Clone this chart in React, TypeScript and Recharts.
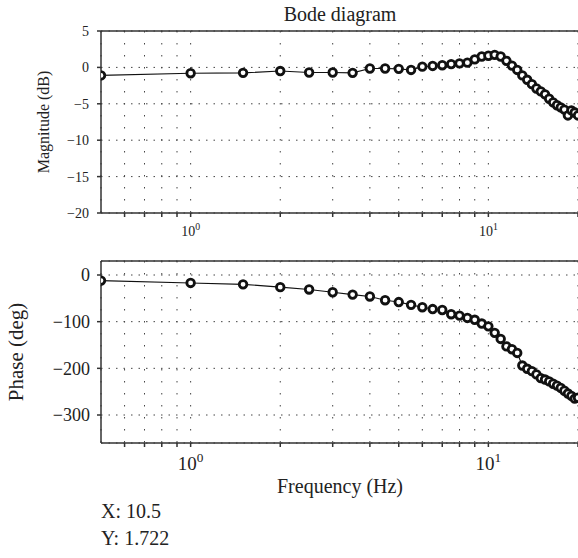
import React from "react";
import { LineChart, Line, XAxis, YAxis, CartesianGrid, ReferenceLine } from "recharts";

const frequencies = [
  0.5, 1, 1.5, 2, 2.5, 3, 3.5, 4, 4.5, 5, 5.5, 6, 6.5, 7, 7.5, 8, 8.5, 9, 9.5, 10,
  10.5, 11, 11.5, 12, 12.5, 13, 13.5, 14, 14.5, 15, 15.5, 16, 16.5, 17, 17.5, 18, 18.5, 19, 19.5, 20,
];
const magnitudeDb = [
  -1.1, -0.8, -0.75, -0.5, -0.7, -0.7, -0.75, -0.15, -0.15, -0.2, -0.35, 0.1, 0.2, 0.3, 0.45, 0.55, 0.65, 1.1, 1.5, 1.6,
  1.722, 1.5, 0.9, 0.25, -0.35, -1.1, -1.7, -2.3, -2.9, -3.3, -3.7, -4.3, -4.8, -5.2, -5.5, -5.8, -6.6, -5.9, -6.2, -6.6,
];
const phaseDeg = [
  -12, -17, -20, -26, -31, -37, -42, -46, -54, -58, -64, -69, -73, -75, -84, -87, -92, -96, -104, -110,
  -124, -137, -153, -159, -167, -194, -201, -206, -213, -221, -224, -228, -233, -237, -242, -248, -254, -259, -265, -263,
];
const magTicks = [-20, -15, -10, -5, 0, 5];
const phaseTicks = [-300, -200, -100, 0];
const freqTicks = [0.6, 0.7, 0.8, 0.9, 1, 2, 3, 4, 5, 6, 7, 8, 9, 10, 20];
const decadeExponent: Record<string, string> = { "1": "0", "10": "1" };

const magData = frequencies.map((f, i) => ({ f, v: magnitudeDb[i] }));
const phaseData = frequencies.map((f, i) => ({ f, v: phaseDeg[i] }));

const FONT = "Liberation Serif, DejaVu Serif, serif";
const INK = "#222";

const fmt = (v: number) => (v < 0 ? "\u2212" + Math.abs(v) : String(v));

const DecadeTick = (props: any) => {
  const { x, y, payload, fontSize, offset } = props;
  const exp = decadeExponent[String(payload.value)];
  if (exp === undefined) return null;
  return (
    <text x={x} y={y + offset} textAnchor="middle" style={{ fontFamily: FONT }} fontSize={fontSize} fill={INK}>
      <tspan>10</tspan>
      <tspan dy={-fontSize * 0.42} fontSize={fontSize * 0.7}>{exp}</tspan>
    </text>
  );
};

const YTick = (props: any) => {
  const { x, y, payload, fontSize } = props;
  return (
    <text x={x} y={y} dy="0.35em" textAnchor="end" style={{ fontFamily: FONT }} fontSize={fontSize} fill={INK}>
      {fmt(payload.value)}
    </text>
  );
};

const dotStyle = { r: 3.8, stroke: "#111", strokeWidth: 2.8, fill: "#fff" };

function Panel(props: {
  data: { f: number; v: number }[];
  domain: [number, number];
  yTicks: number[];
  yFont: number;
  xFont: number;
  xOffset: number;
  yMargin: number;
}) {
  const { data, domain, yTicks, yFont, xFont, xOffset, yMargin } = props;
  return (
    <LineChart width={578} height={250} data={data} margin={{ top: 31, right: 0, bottom: 0, left: 0 }}>
      <CartesianGrid vertical={false} stroke="#444" strokeDasharray="1.5 6" />
      <CartesianGrid horizontal={false} stroke="#444" strokeDasharray="1.5 10.5" />
      <XAxis
        dataKey="f"
        type="number"
        scale="log"
        domain={[0.5, 20]}
        allowDataOverflow
        ticks={freqTicks}
        interval={0}
        height={37}
        tickSize={4}
        tickMargin={2}
        stroke="#333"
        strokeWidth={1.5}
        tick={<DecadeTick fontSize={xFont} offset={xOffset} />}
      />
      <YAxis
        type="number"
        domain={domain}
        allowDataOverflow
        ticks={yTicks}
        interval={0}
        width={101}
        tickSize={4}
        tickMargin={yMargin}
        stroke="#333"
        strokeWidth={1.5}
        tick={<YTick fontSize={yFont} />}
      />
      <ReferenceLine y={domain[1]} stroke="#333" strokeWidth={1.5} />
      <Line
        type="linear"
        dataKey="v"
        stroke="#111"
        strokeWidth={1.1}
        dot={dotStyle}
        activeDot={false}
        isAnimationActive={false}
      />
    </LineChart>
  );
}

export default function App() {
  return (
    <div style={{ position: "absolute", left: 0, top: 0, width: 578, height: 558, background: "#fff", overflow: "hidden", fontFamily: FONT }}>
      <div style={{ position: "absolute", left: 0, top: 0 }}>
        <Panel data={magData} domain={[-20, 5]} yTicks={magTicks} yFont={14} xFont={14} xOffset={17} yMargin={8} />
      </div>
      <div style={{ position: "absolute", left: 0, top: 230 }}>
        <Panel data={phaseData} domain={[-360, 30]} yTicks={phaseTicks} yFont={18} xFont={19} xOffset={21} yMargin={7} />
      </div>
      <svg width={578} height={558} style={{ position: "absolute", left: 0, top: 0, pointerEvents: "none", fontFamily: FONT }}>
        <g fill={INK}>
          <text x={340} y={21} textAnchor="middle" fontSize={20}>Bode diagram</text>
          <text x={49} y={122} textAnchor="middle" fontSize={16} transform="rotate(-90 49 122)">Magnitude (dB)</text>
          <text x={23} y={352} textAnchor="middle" fontSize={21} transform="rotate(-90 23 352)">Phase (deg)</text>
          <text x={340} y={493} textAnchor="middle" fontSize={20}>Frequency (Hz)</text>
          <text x={101} y={518} fontSize={20}>X: 10.5</text>
          <text x={101} y={545} fontSize={20}>Y: 1.722</text>
        </g>
      </svg>
    </div>
  );
}
